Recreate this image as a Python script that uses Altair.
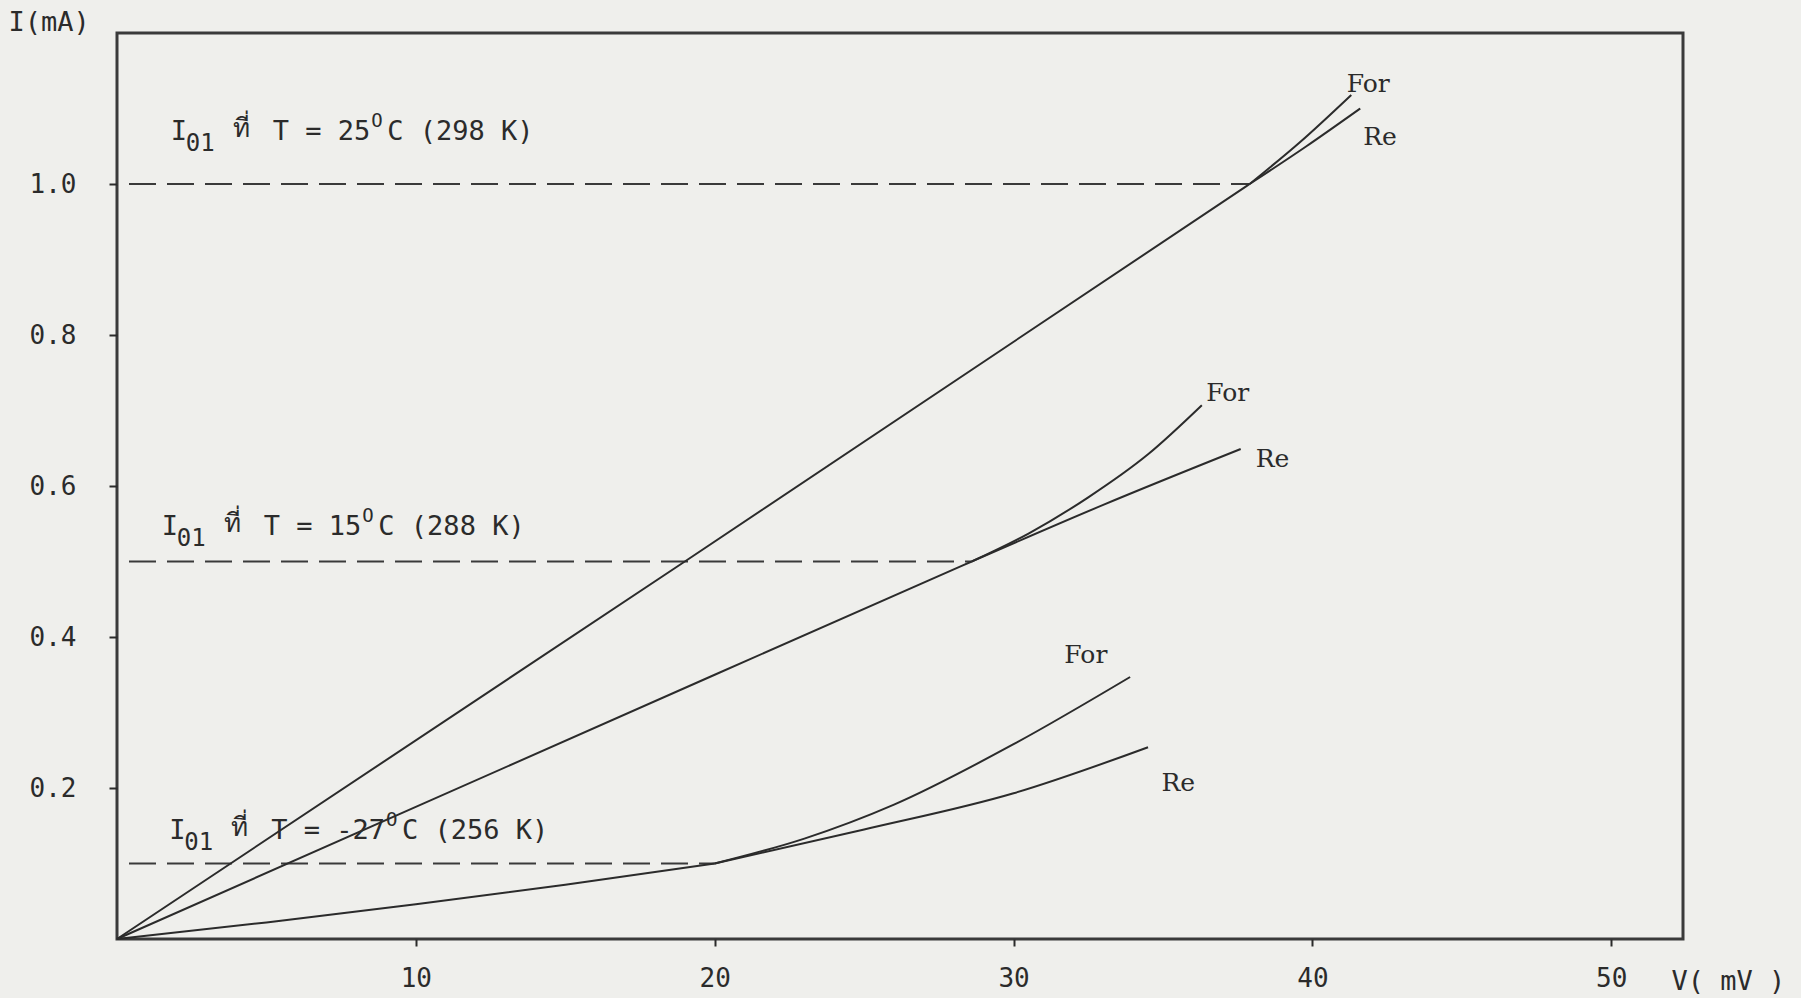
import altair as alt
import pandas as pd

# ---- axis ranges and ticks -------------------------------------------------
V_MAX = 52.4          # mV
I_MAX = 1.2           # mA
V_TICKS = [10, 20, 30, 40, 50]
I_TICKS = [0.2, 0.4, 0.6, 0.8, 1.0]

# ---- I-V curves: common trunk up to the I01 level, then forward ("For")
# ---- and reverse ("Re") sweep branches ---------------------------------------
V_25_TRUNK = [0, 19.0, 37.9]
I_25_TRUNK = [0, 0.500, 1.000]
V_25_FOR = [37.9, 39.6, 41.3]
I_25_FOR = [1.000, 1.056, 1.118]
V_25_RE = [37.9, 39.8, 41.6]
I_25_RE = [1.000, 1.050, 1.100]

V_15_TRUNK = [0, 20, 28.6]
I_15_TRUNK = [0, 0.350, 0.500]
V_15_FOR = [28.6, 30.5, 32.5, 34.5, 36.3]
I_15_FOR = [0.500, 0.537, 0.585, 0.642, 0.707]
V_15_RE = [28.6, 33.0, 37.6]
I_15_RE = [0.500, 0.575, 0.649]

V_M27_TRUNK = [0, 5, 10, 15, 20.0]
I_M27_TRUNK = [0, 0.022, 0.046, 0.072, 0.100]
V_M27_FOR = [20.0, 23.0, 26.0, 30.0, 33.9]
I_M27_FOR = [0.100, 0.133, 0.178, 0.258, 0.347]
V_M27_RE = [20.0, 25.0, 30.0, 34.5]
I_M27_RE = [0.100, 0.145, 0.193, 0.254]

# ---- I01 reference levels (dashed) ------------------------------------------
TEMP_C = ["25", "15", "-27"]
TEMP_K = ["298", "288", "256"]
I01_LEVEL = [1.0, 0.5, 0.1]
I01_END_V = [37.9, 28.6, 20.0]
LABEL_V = [1.8, 1.5, 1.75]
LABEL_I = [1.069, 0.546, 0.143]

# ---- sweep-direction tags at the curve ends ---------------------------------
TAG_TEXT = ["For", "Re", "For", "Re", "For", "Re"]
TAG_V = [41.15, 41.7, 36.45, 38.1, 31.7, 34.95]
TAG_I = [1.132, 1.062, 0.723, 0.636, 0.376, 0.207]

# ---- layout -----------------------------------------------------------------
W, H = 1566, 906
PX_PER_MV = W / V_MAX
INK = "#2b2b2b"
MONO = "DejaVu Sans Mono"
FS = 27
CW = FS * 0.602  # monospace advance


def to_rows(groups):
    rows = []
    for name, vs, is_ in groups:
        for order, (v, i) in enumerate(zip(vs, is_)):
            rows.append({"series": name, "V": v, "I": i, "o": order})
    return pd.DataFrame(rows)


trunks = to_rows([
    ("25", V_25_TRUNK, I_25_TRUNK),
    ("15", V_15_TRUNK, I_15_TRUNK),
    ("-27", V_M27_TRUNK, I_M27_TRUNK),
])
branches = to_rows([
    ("25 For", V_25_FOR, I_25_FOR), ("25 Re", V_25_RE, I_25_RE),
    ("15 For", V_15_FOR, I_15_FOR), ("15 Re", V_15_RE, I_15_RE),
    ("-27 For", V_M27_FOR, I_M27_FOR), ("-27 Re", V_M27_RE, I_M27_RE),
])

levels = pd.DataFrame({"V0": [0.0] * 3, "V1": I01_END_V, "I": I01_LEVEL})

# label pieces: "I", subscript "01", Thai word, "T = xx", superscript "O", "C (xxx K)"
pieces = []
for c, k, lv, li in zip(TEMP_C, TEMP_K, LABEL_V, LABEL_I):
    head = f"T = {c}"
    parts = [
        ("I", 0, "main"),
        ("01", 15, "sub"),
        ("ที่", 62, "thai"),
        (head, 102, "main"),
        ("O", 102 + len(head) * CW + 1, "sup"),
        (f"C ({k} K)", 102 + len(head) * CW + 17, "main"),
    ]
    for txt, off, kind in parts:
        pieces.append({"t": txt, "V": lv + off / PX_PER_MV, "I": li, "kind": kind})
pieces = pd.DataFrame(pieces)

tags = pd.DataFrame({"t": TAG_TEXT, "V": TAG_V, "I": TAG_I})

xs = alt.Scale(domain=[0, V_MAX], nice=False, zero=False)
ys = alt.Scale(domain=[0, I_MAX], nice=False, zero=False)

x_axis = alt.Axis(
    values=V_TICKS, format="d", grid=False, domain=False,
    tickSize=7, tickWidth=2, tickColor=INK,
    labelFont=MONO, labelFontSize=26, labelColor=INK, labelPadding=19,
    title="V( mV )", titleFont=MONO, titleFontSize=27, titleFontWeight="normal",
    titleColor=INK, titleAnchor="start", titleAlign="left", titleX=1554, titleY=42,
    titleBaseline="middle",
)
y_axis = alt.Axis(
    values=I_TICKS, format=".1f", grid=False, domain=False,
    tickSize=8, tickWidth=2, tickColor=INK,
    labelFont=MONO, labelFontSize=26, labelColor=INK, labelPadding=33,
    title="I(mA)", titleFont=MONO, titleFontSize=27, titleFontWeight="normal",
    titleColor=INK, titleAngle=0, titleAlign="left", titleBaseline="middle",
    titleAnchor="end", titleX=-109, titleY=-11,
)

trunk_lines = alt.Chart(trunks).mark_line(
    color=INK, strokeWidth=2, interpolate="monotone"
).encode(
    x=alt.X("V:Q", scale=xs, axis=x_axis),
    y=alt.Y("I:Q", scale=ys, axis=y_axis),
    detail="series:N",
    order="o:Q",
)

branch_lines = alt.Chart(branches).mark_line(
    color=INK, strokeWidth=2, interpolate="monotone"
).encode(x="V:Q", y="I:Q", detail="series:N", order="o:Q")

dashes = alt.Chart(levels).mark_rule(
    color="#3a3a3a", strokeWidth=2, strokeDash=[27, 11], strokeDashOffset=-12
).encode(x="V0:Q", x2="V1:Q", y="I:Q")


def piece_layer(kind, size, dy, font=MONO):
    return alt.Chart(pieces).transform_filter(
        alt.datum.kind == kind
    ).mark_text(
        font=font, fontSize=size, color=INK, align="left", baseline="middle", dy=dy
    ).encode(x="V:Q", y="I:Q", text="t:N")


labels = (
    piece_layer("main", FS, 0)
    + piece_layer("sub", 24, 12)
    + piece_layer("sup", 19, -11)
    + piece_layer("thai", 26, -3, font="Noto Sans")
)

tag_text = alt.Chart(tags).mark_text(
    font="DejaVu Serif", fontSize=25, color=INK, align="left", baseline="middle"
).encode(x="V:Q", y="I:Q", text="t:N")

chart = alt.layer(dashes, trunk_lines, branch_lines, labels, tag_text).properties(
    width=W, height=H,
    autosize=alt.AutoSizeParams(type="none"),
    padding={"left": 117, "top": 33, "right": 118, "bottom": 59},
).configure(
    background="#efefec",
).configure_view(
    stroke="#3a3a3a", strokeWidth=3, fill="#efefec",
)

chart.save("out.html", embed_options={"renderer": "svg", "actions": False})
